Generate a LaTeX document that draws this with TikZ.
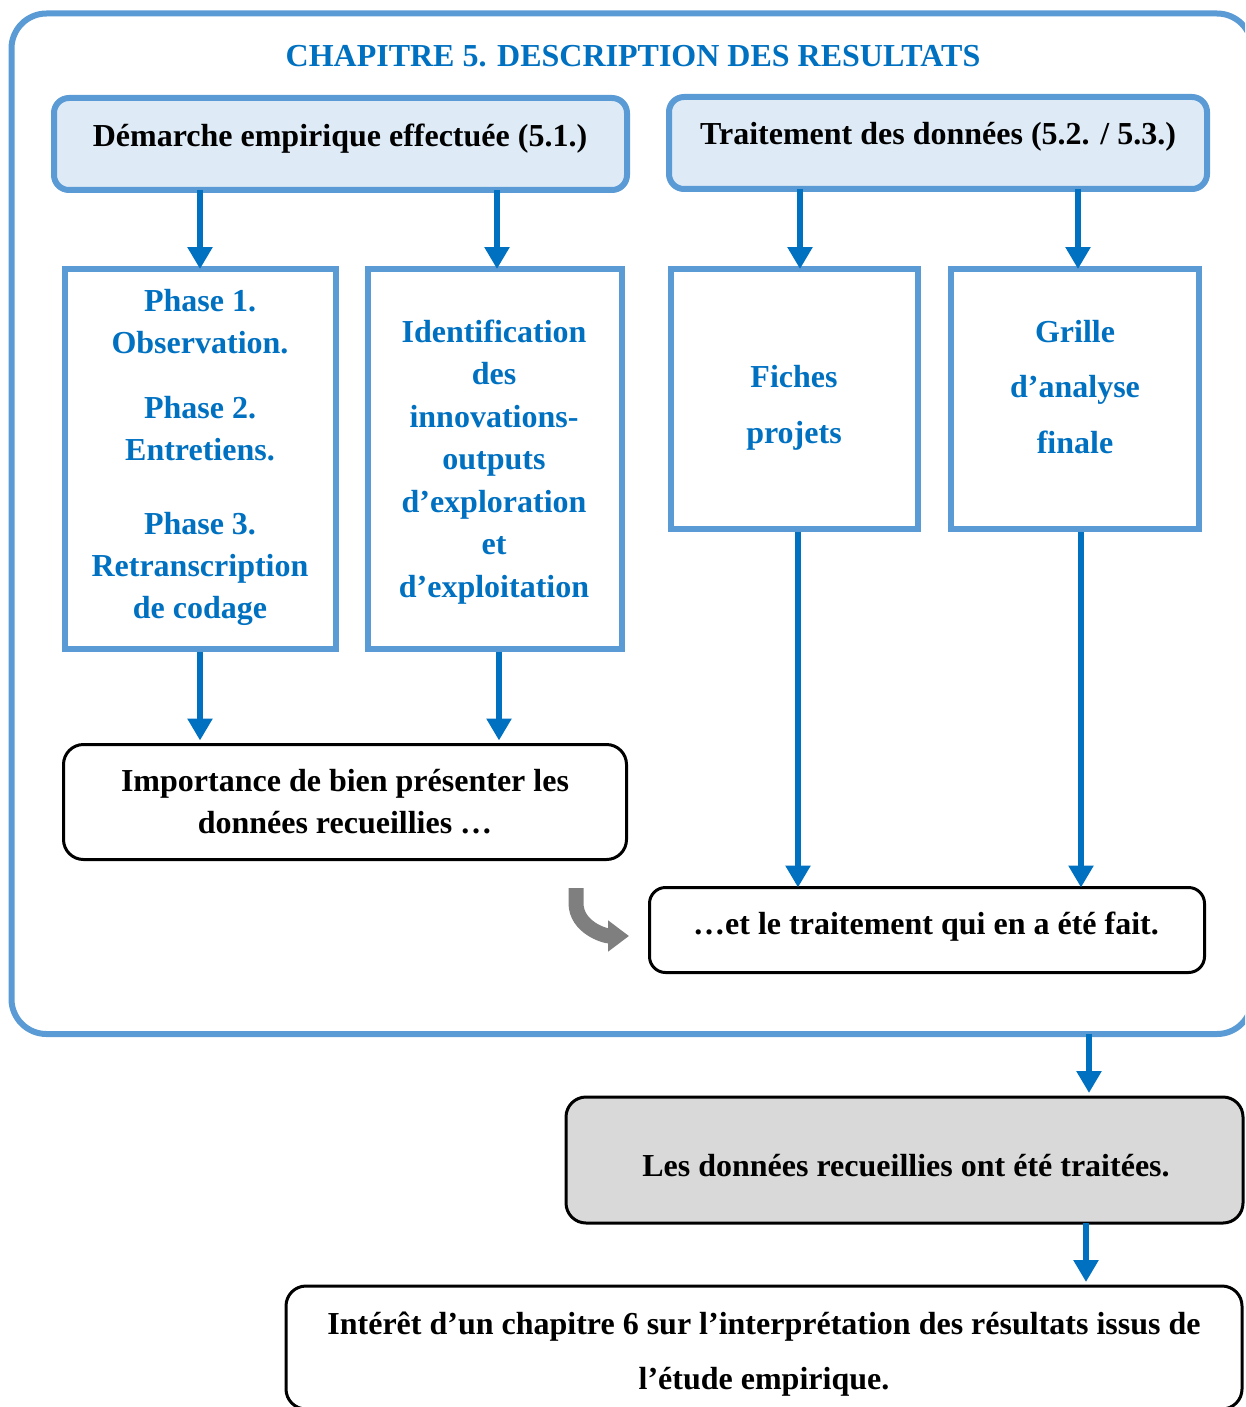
\documentclass[tikz,border=0pt]{standalone}
\usepackage{fontspec}
\setmainfont{Liberation Serif}
\usetikzlibrary{arrows.meta,calc}
\definecolor{bline}{HTML}{5B9BD5}
\definecolor{tblue}{HTML}{0070C0}
\definecolor{lblue}{HTML}{DEEBF7}
\definecolor{gfill}{HTML}{D9D9D9}
\definecolor{garrow}{HTML}{7F7F7F}
\begin{document}
\begin{tikzpicture}[x=1pt,y=-1pt,
  framebox/.style={draw=bline, line width=6pt, rounded corners=35pt, inner sep=0pt, outer sep=0pt},
  headbox/.style={draw=bline, fill=lblue, line width=6pt, rounded corners=15pt, inner sep=0pt, outer sep=0pt},
  bluebox/.style={draw=bline, line width=6pt, inner sep=0pt, outer sep=0pt},
  blackbox/.style={draw=black, line width=3pt, rounded corners=18pt, inner sep=0pt, outer sep=0pt},
  greybox/.style={blackbox, fill=gfill},
  arr/.style={draw=tblue, line width=6pt, -{Triangle[width=24pt,length=22pt]}},
  garr/.style={draw=garrow, line width=15pt, -{Triangle[width=30pt,length=21pt]}},
  txt/.style={font=\fontsize{32}{42}\selectfont\bfseries, align=center, inner sep=0pt},
  btxt/.style={txt, text=tblue}
]
\useasboundingbox (0,0) rectangle (1245,1407);
\clip (0,0) rectangle (1245,1407);

% frame
\node[framebox, minimum width=1240.5pt, minimum height=1020.5pt] (frame) at (631.75,523.75) {};
\node[btxt] (title) at (633,58) {\strut CHAPITRE 5. DESCRIPTION DES RESULTATS};

% header boxes
\node[headbox, minimum width=573pt, minimum height=92pt] (A) at (340.5,144) {};
\node[txt] (Atxt) at (340,138) {\strut Démarche empirique effectuée (5.1.)};
\node[headbox, minimum width=538pt, minimum height=92pt] (B) at (938,143) {};
\node[txt] (Btxt) at (938,136) {\strut Traitement des données (5.2. / 5.3.)};

% blue boxes
\node[bluebox, minimum width=271pt, minimum height=380pt] (p1) at (200.5,459) {};
\node[bluebox, minimum width=254pt, minimum height=380pt] (p2) at (495,459) {};
\node[bluebox, minimum width=247pt, minimum height=260pt] (p3) at (794.5,399) {};
\node[bluebox, minimum width=248pt, minimum height=260pt] (p4) at (1075,399) {};

\node[btxt] (p1a) at (200,324) {\strut Phase 1.\strut\\\strut Observation.\strut};
\node[btxt] (p1b) at (200,431) {\strut Phase 2.\strut\\\strut Entretiens.\strut};
\node[btxt] (p1c) at (200,568) {\strut Phase 3.\strut\\\strut Retranscription\strut\\\strut de codage\strut};
\node[btxt, font=\fontsize{32}{42.5}\selectfont\bfseries] (p2t) at (494,461) {\strut Identification\\\strut des\\\strut innovations-\\\strut outputs\\\strut d’exploration\\\strut et\\\strut d’exploitation\strut};
\node[btxt, font=\fontsize{32}{56}\selectfont\bfseries] (p3t) at (794,404) {\strut Fiches\\\strut projets\strut};
\node[btxt, font=\fontsize{32}{55.5}\selectfont\bfseries] (p4t) at (1075,386.5) {\strut Grille\\\strut d’analyse\\\strut finale\strut};

% black boxes
\node[blackbox, minimum width=563pt, minimum height=115pt, rounded corners=20pt] (C) at (345,802) {};
\node[txt] (Ctxt) at (345,804) {\strut Importance de bien présenter les\\\strut données recueillies …\strut};
\node[blackbox, minimum width=555pt, minimum height=85pt, rounded corners=16pt] (D) at (927,930) {};
\node[txt] (Dtxt) at (926,926) {\strut …et le traitement qui en a été fait.};
\node[greybox, minimum width=677pt, minimum height=126pt, rounded corners=20pt] (E) at (904.5,1160) {};
\node[txt] (Etxt) at (906,1168) {\strut Les données recueillies ont été traitées.};
\node[blackbox, minimum width=956pt, minimum height=123pt, rounded corners=20pt] (F) at (764,1347.5) {};
\node[txt, font=\fontsize{32}{55}\selectfont\bfseries] (Ftxt) at (764,1351) {\strut Intérêt d’un chapitre 6 sur l’interprétation des résultats issus de\\\strut l’étude empirique.\strut};

% x positions of connectors
\coordinate (x1) at (200,0);
\coordinate (x2) at (497,0);
\coordinate (x3) at (800,0);
\coordinate (x4) at (1078,0);
\coordinate (x5) at (499,0);
\coordinate (x6) at (798,0);
\coordinate (x7) at (1081,0);
\coordinate (x8) at (1089,0);
\coordinate (x9) at (1086,0);

\draw[arr] (A.south -| x1) -- (p1.north -| x1);
\draw[arr] (A.south -| x2) -- (p2.north -| x2);
\draw[arr] (B.south -| x3) -- (p3.north -| x3);
\draw[arr] (B.south -| x4) -- (p4.north -| x4);
\draw[arr] ([yshift=-3pt]p1.south -| x1) -- ([yshift=4pt]C.north -| x1);
\draw[arr] ([yshift=-3pt]p2.south -| x5) -- ([yshift=4pt]C.north -| x5);
\draw[arr] ([yshift=-3pt]p3.south -| x6) -- (D.north -| x6);
\draw[arr] ([yshift=-3pt]p4.south -| x7) -- (D.north -| x7);
\draw[arr] (frame.south -| x8) -- ([yshift=4pt]E.north -| x8);
\draw[arr] (E.south -| x9) -- ([yshift=4pt]F.north -| x9);

% grey curved arrow
\coordinate (g0) at (576,888);
\coordinate (g1) at (629,936);
\draw[garr] (g0) -- (576,903) to[out=-90,in=180] (g1);
\end{tikzpicture}
\end{document}
